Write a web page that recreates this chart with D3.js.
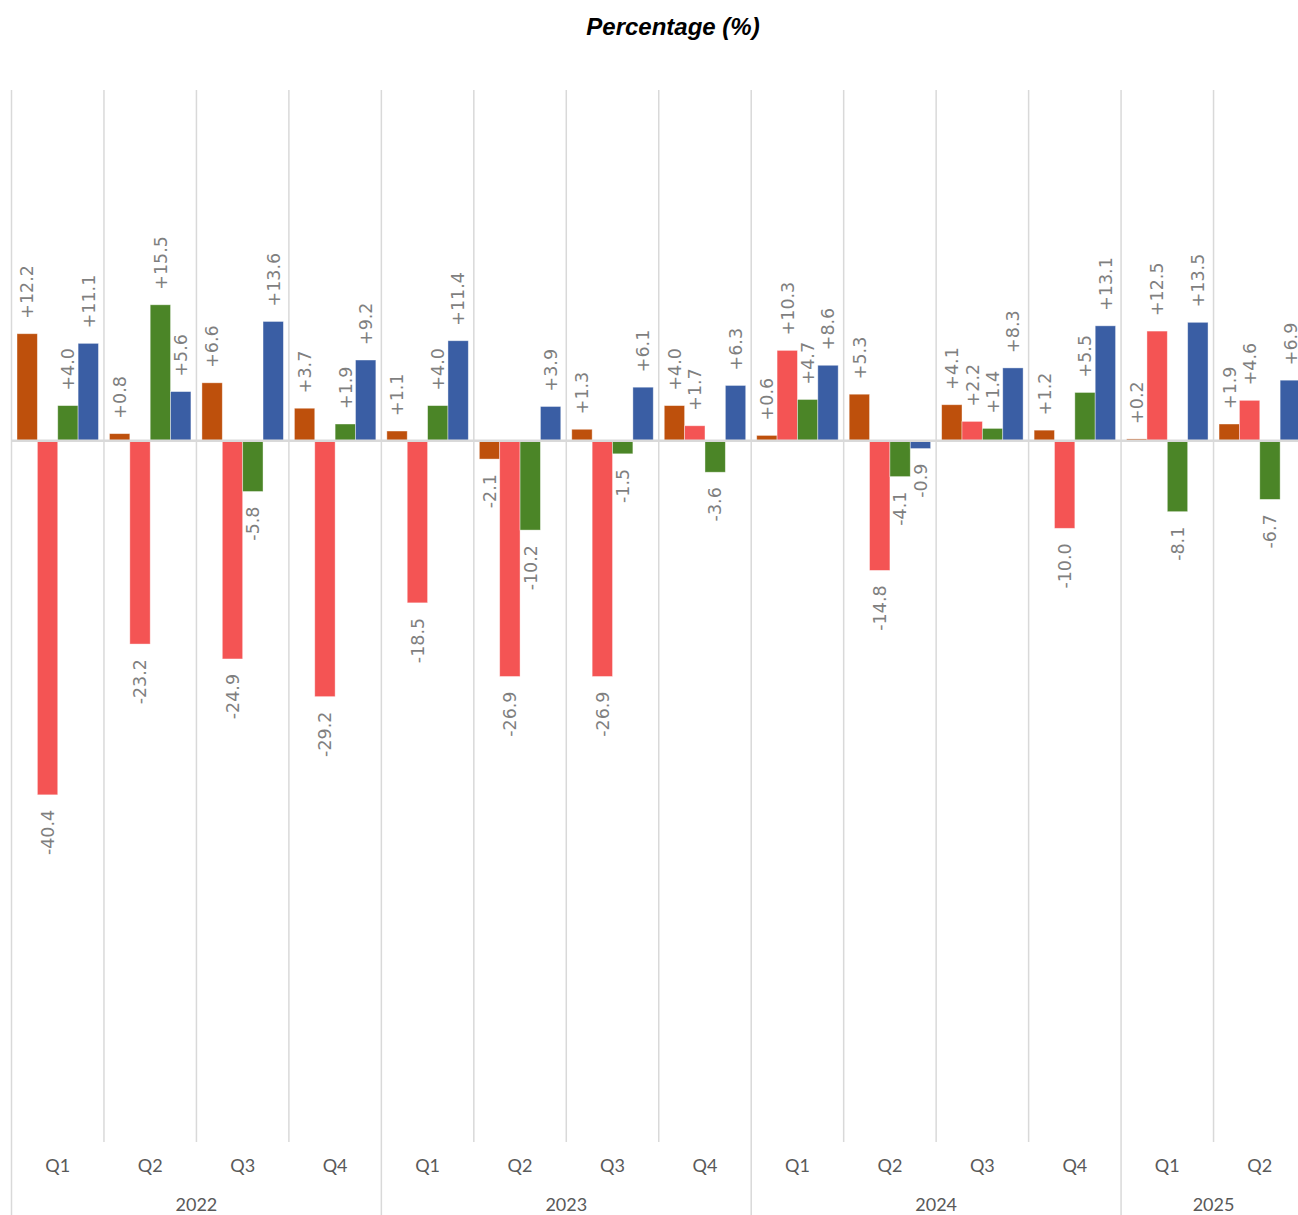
<!DOCTYPE html>
<html>
<head>
<meta charset="utf-8">
<script src="https://cdn.jsdelivr.net/npm/d3@7"></script>
<style>
  body { margin: 0; background: #fff; }
</style>
</head>
<body>
<script>
// quarters and years (category axis)
var years = ["2022", "2023", "2024", "2025"];
var quarters = ["Q1", "Q2", "Q3", "Q4", "Q1", "Q2", "Q3", "Q4", "Q1", "Q2", "Q3", "Q4", "Q1", "Q2"];
var quarterYear = ["2022", "2022", "2022", "2022", "2023", "2023", "2023", "2023", "2024", "2024", "2024", "2024", "2025", "2025"];

// the four series, one value per quarter
var seriesOrange = [12.2, 0.8, 6.6, 3.7, 1.1, -2.1, 1.3, 4.0, 0.6, 5.3, 4.1, 1.2, 0.2, 1.9];
var seriesRed = [-40.4, -23.2, -24.9, -29.2, -18.5, -26.9, -26.9, 1.7, 10.3, -14.8, 2.2, -10.0, 12.5, 4.6];
var seriesGreen = [4.0, 15.5, -5.8, 1.9, 4.0, -10.2, -1.5, -3.6, 4.7, -4.1, 1.4, 5.5, -8.1, -6.7];
var seriesBlue = [11.1, 5.6, 13.6, 9.2, 11.4, 3.9, 6.1, 6.3, 8.6, -0.9, 8.3, 13.1, 13.5, 6.9];

var seriesList = [seriesOrange, seriesRed, seriesGreen, seriesBlue];
var colors = ["#BE500C", "#F45454", "#4B8527", "#3A5EA4"];

var w = 1298;
var h = 1215;
var plotTop = 90;
var plotBottom = 1142;

var svg = d3.select("body").append("svg")
    .attr("width", w)
    .attr("height", h);

var groupIds = d3.range(quarters.length);

var x = d3.scaleBand()
    .domain(groupIds)
    .range([11.5, 1306])
    .padding(0);

var xInner = d3.scaleBand()
    .domain(d3.range(seriesList.length))
    .range([5.5, x.bandwidth() - 5.5])
    .padding(0);

var y = d3.scaleLinear()
    .domain([-80, 40])
    .range([plotBottom, plotTop]);

// title
svg.append("text")
    .attr("x", 673)
    .attr("y", 35)
    .attr("text-anchor", "middle")
    .attr("font-family", "Liberation Sans, Arial, sans-serif")
    .attr("font-size", "24px")
    .attr("font-weight", "bold")
    .attr("font-style", "italic")
    .attr("fill", "#000")
    .text("Percentage (%)");

// quarter separators
svg.selectAll("line.qsep")
    .data(groupIds.filter(function(i) { return i > 0 && quarterYear[i] == quarterYear[i - 1]; }))
    .enter()
    .append("line")
    .attr("class", "qsep")
    .attr("x1", function(d) { return x(d); })
    .attr("x2", function(d) { return x(d); })
    .attr("y1", plotTop)
    .attr("y2", plotBottom)
    .attr("stroke", "#d9d9d9")
    .attr("stroke-width", 1.5);

// year separators (run down through the axis labels)
var yearStarts = groupIds.filter(function(i) { return i == 0 || quarterYear[i] != quarterYear[i - 1]; });
svg.selectAll("line.ysep")
    .data(yearStarts.concat([quarters.length]))
    .enter()
    .append("line")
    .attr("class", "ysep")
    .attr("x1", function(d) { return d < quarters.length ? x(d) : x.range()[1]; })
    .attr("x2", function(d) { return d < quarters.length ? x(d) : x.range()[1]; })
    .attr("y1", plotTop)
    .attr("y2", h)
    .attr("stroke", "#d9d9d9")
    .attr("stroke-width", 1.5);

// bars
var barData = [];
seriesList.forEach(function(s, si) {
    s.forEach(function(v, gi) {
        barData.push({ s: si, g: gi, v: v });
    });
});

svg.selectAll("rect.bar")
    .data(barData)
    .enter()
    .append("rect")
    .attr("class", "bar")
    .attr("x", function(d) { return x(d.g) + xInner(d.s); })
    .attr("y", function(d) { return y(Math.max(0, d.v)); })
    .attr("width", xInner.bandwidth())
    .attr("height", function(d) { return Math.abs(y(d.v) - y(0)); })
    .attr("fill", function(d) { return colors[d.s]; })
    .attr("stroke", "#ffffff")
    .attr("stroke-opacity", 0.5)
    .attr("stroke-width", 0.8);

// zero line
svg.append("line")
    .attr("x1", x.range()[0])
    .attr("x2", w)
    .attr("y1", y(0))
    .attr("y2", y(0))
    .attr("stroke", "#d9d9d9")
    .attr("stroke-width", 2.5);

// data labels, rotated
svg.selectAll("text.lbl")
    .data(barData)
    .enter()
    .append("text")
    .attr("class", "lbl")
    .attr("transform", function(d) {
        var cx = x(d.g) + xInner(d.s) + xInner.bandwidth() / 2;
        var cy = d.v >= 0 ? y(d.v) - 15 : y(d.v) + 15;
        return "translate(" + cx + "," + cy + ") rotate(-90)";
    })
    .attr("dy", "0.36em")
    .attr("text-anchor", function(d) { return d.v >= 0 ? "start" : "end"; })
    .attr("font-family", "DejaVu Sans, sans-serif")
    .attr("font-size", "17.5px")
    .attr("fill", "#7f7f7f")
    .text(function(d) { return (d.v >= 0 ? "+" : "") + d.v.toFixed(1); });

// quarter labels
svg.selectAll("text.qlab")
    .data(groupIds)
    .enter()
    .append("text")
    .attr("class", "qlab")
    .attr("x", function(d) { return x(d) + x.bandwidth() / 2; })
    .attr("y", 1172)
    .attr("text-anchor", "middle")
    .attr("font-family", "Lato, sans-serif")
    .attr("font-size", "18px")
    .attr("fill", "#595959")
    .text(function(d) { return quarters[d]; });

// year labels
svg.selectAll("text.ylab")
    .data(years)
    .enter()
    .append("text")
    .attr("class", "ylab")
    .attr("x", function(d) {
        var idx = groupIds.filter(function(i) { return quarterYear[i] == d; });
        var x0 = x(idx[0]);
        var x1 = x(idx[idx.length - 1]) + x.bandwidth();
        return (x0 + x1) / 2;
    })
    .attr("y", 1211)
    .attr("text-anchor", "middle")
    .attr("font-family", "Lato, sans-serif")
    .attr("font-size", "18px")
    .attr("fill", "#595959")
    .text(function(d) { return d; });
</script>
</body>
</html>
